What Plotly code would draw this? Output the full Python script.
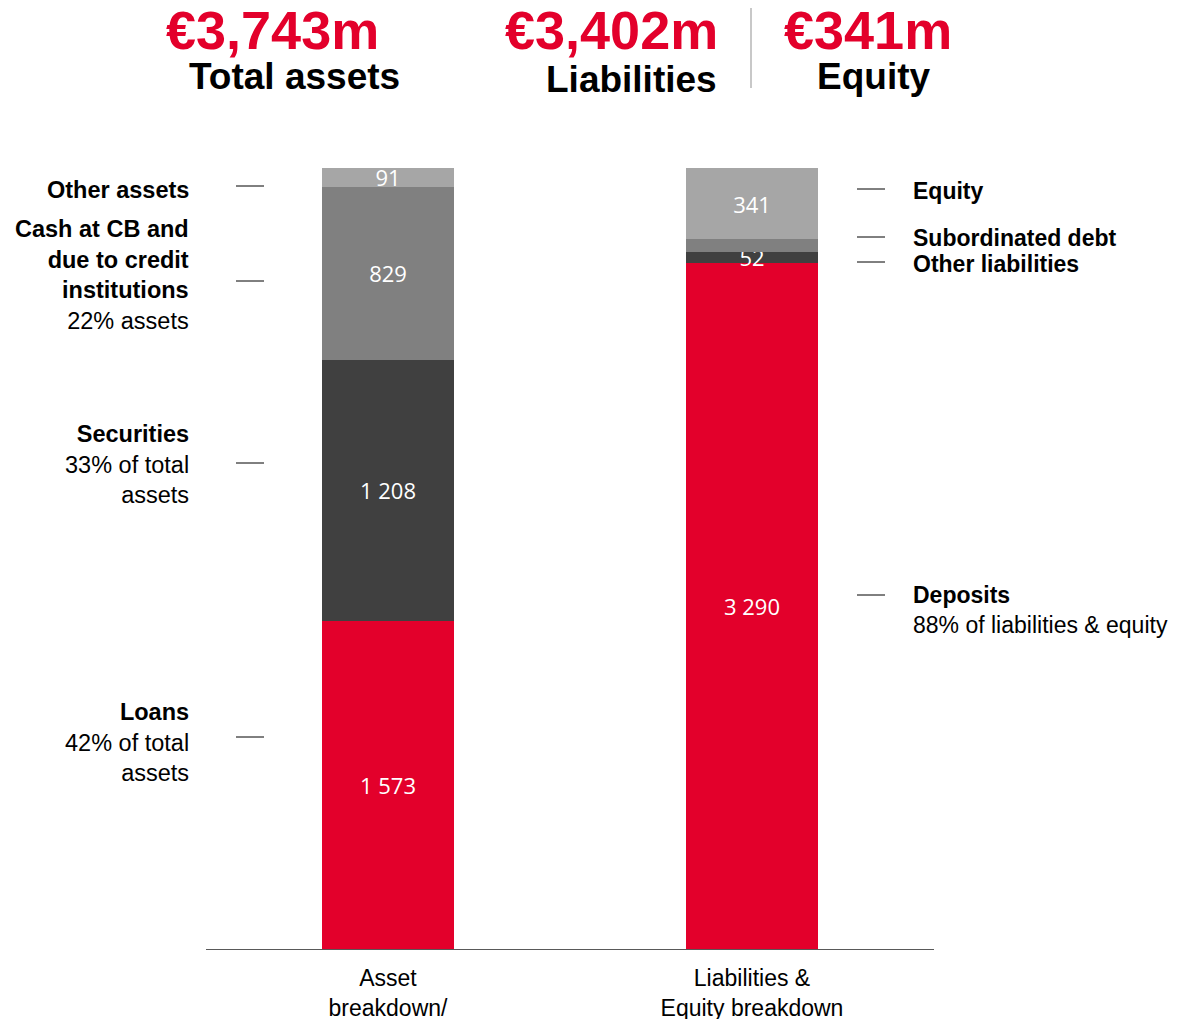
import plotly.graph_objects as go

# ---- data ----
categories = ["Asset<br>breakdown/", "Liabilities &<br>Equity breakdown"]

asset_segments = ["Loans", "Securities", "Cash at CB and due to credit institutions", "Other assets"]
asset_values = [1573, 1250, 829, 91]
asset_labels = ["1 573", "1 208", "829", "91"]

liab_segments = ["Deposits", "Other liabilities", "Subordinated debt", "Equity"]
liab_values = [3290, 52, 60, 341]
liab_labels = ["3 290", "52", "", "341"]

headline_values = ["€3,743m", "€3,402m", "€341m"]
headline_names = ["Total assets", "Liabilities", "Equity"]

left_texts = [
    "<b>Other assets</b>",
    "<b>Cash at CB and<br>due to credit<br>institutions</b><br>22% assets",
    "<b>Securities</b><br>33% of total<br>assets",
    "<b>Loans</b><br>42% of total<br>assets",
]
right_texts = [
    "<b>Equity</b>",
    "<b>Subordinated debt</b>",
    "<b>Other liabilities</b>",
    "<b>Deposits</b><br>88% of liabilities & equity",
]

RED = "#E3002B"
asset_colors = [RED, "#404040", "#808080", "#A6A6A6"]
liab_colors = [RED, "#404040", "#808080", "#A6A6A6"]

# ---- page geometry ----
# the page body has an 8px margin, so the figure is drawn 8px smaller
OFF = 8
W, H = 1179 - OFF, 1019 - OFF
# plot area in screen pixels: x 206..934, y 168..949
PX0, PX1, PY0, PY1 = 206, 934, 168, 949
ML, MR = PX0 - OFF, W - (PX1 - OFF)
MT, MB = PY0 - OFF, H - (PY1 - OFF)


def px_x(px):
    return (px - PX0) / (PX1 - PX0)


def px_y(py):
    return (PY1 - py) / (PY1 - PY0)


FONT = "Liberation Sans, Arial, sans-serif"
BAR_FONT = dict(family="Open Sans, sans-serif", size=22, color="white")

fig = go.Figure()

for name, val, lab, col in zip(asset_segments, asset_values, asset_labels, asset_colors):
    fig.add_trace(go.Bar(
        x=[0], y=[val], name=name, text=[lab], marker_color=col,
        marker_line_width=0, width=0.363,
        textposition="inside", insidetextanchor="middle", textangle=0,
        constraintext="none", textfont=BAR_FONT,
    ))

for name, val, lab, col in zip(liab_segments, liab_values, liab_labels, liab_colors):
    fig.add_trace(go.Bar(
        x=[1], y=[val], name=name, text=[lab], marker_color=col,
        marker_line_width=0, width=0.363,
        textposition="inside", insidetextanchor="middle", textangle=0,
        constraintext="none", textfont=BAR_FONT,
    ))

annotations = []

# headline figures
head_pos = [(272, 294, 76), (611, 631, 80), (868, 873, 76)]
for (xv, xn, yn), v, n in zip(head_pos, headline_values, headline_names):
    annotations.append(dict(
        text=f"<b>{v}</b>", x=px_x(xv), y=px_y(30), xref="paper", yref="paper",
        xanchor="center", yanchor="middle", showarrow=False,
        font=dict(family=FONT, size=54, color=RED),
    ))
    annotations.append(dict(
        text=f"<b>{n}</b>", x=px_x(xn), y=px_y(yn), xref="paper", yref="paper",
        xanchor="center", yanchor="middle", showarrow=False,
        font=dict(family=FONT, size=37, color="black"),
    ))

# side labels
left_y = [190, 275, 464, 742]
for t, yy in zip(left_texts, left_y):
    annotations.append(dict(
        text=t, x=px_x(191), y=px_y(yy), xref="paper", yref="paper",
        xanchor="right", yanchor="middle", align="right", showarrow=False,
        font=dict(family=FONT, size=23.5, color="black"),
    ))
right_y = [191, 238, 264, 610]
for t, yy in zip(right_texts, right_y):
    annotations.append(dict(
        text=t, x=px_x(911), y=px_y(yy), xref="paper", yref="paper",
        xanchor="left", yanchor="middle", align="left", showarrow=False,
        font=dict(family=FONT, size=23, color="black"),
    ))

shapes = []
for yy in [186, 281, 463, 737]:
    shapes.append(dict(type="line", xref="paper", yref="paper",
                       x0=px_x(236), x1=px_x(264), y0=px_y(yy), y1=px_y(yy),
                       line=dict(color="black", width=1)))
for yy in [189, 237, 262, 595]:
    shapes.append(dict(type="line", xref="paper", yref="paper",
                       x0=px_x(857), x1=px_x(885), y0=px_y(yy), y1=px_y(yy),
                       line=dict(color="black", width=1)))
# separator between liabilities and equity headline
shapes.append(dict(type="line", xref="paper", yref="paper",
                   x0=px_x(751), x1=px_x(751), y0=px_y(5), y1=px_y(88),
                   line=dict(color="#C8C8C8", width=2)))

fig.update_layout(
    barmode="stack",
    width=W, height=H,
    margin=dict(l=ML, r=MR, t=MT, b=MB),
    plot_bgcolor="white", paper_bgcolor="white",
    showlegend=False,
    font=dict(family=FONT, size=23, color="black"),
    annotations=annotations,
    shapes=shapes,
    xaxis=dict(
        range=[-0.5, 1.5], tickvals=[0, 1], ticktext=categories,
        showline=True, linecolor="#595959", linewidth=1,
        showgrid=False, zeroline=False, automargin=False,
        ticks="outside", ticklen=8, tickcolor="white",
        tickfont=dict(family=FONT, size=23, color="black"),
    ),
    yaxis=dict(range=[0, 3743], visible=False, showgrid=False, zeroline=False,
               automargin=False),
)

fig.write_html("out.html")
